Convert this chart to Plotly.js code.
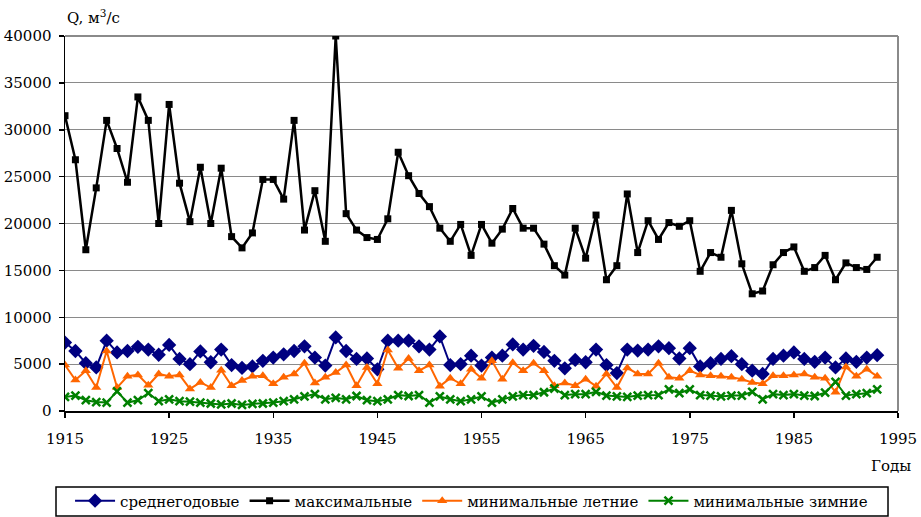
<!DOCTYPE html>
<html>
<head>
<meta charset="utf-8">
<script src="https://cdn.plot.ly/plotly-3.0.1.min.js"></script>
<style>html,body{margin:0;padding:0;background:#fff;}#chart{width:921px;height:517px;}</style>
</head>
<body>
<div id="chart"></div>
<script>
const years = [1915,1916,1917,1918,1919,1920,1921,1922,1923,1924,1925,1926,1927,1928,1929,1930,1931,1932,1933,1934,1935,1936,1937,1938,1939,1940,1941,1942,1943,1944,1945,1946,1947,1948,1949,1950,1951,1952,1953,1954,1955,1956,1957,1958,1959,1960,1961,1962,1963,1964,1965,1966,1967,1968,1969,1970,1971,1972,1973,1974,1975,1976,1977,1978,1979,1980,1981,1982,1983,1984,1985,1986,1987,1988,1989,1990,1991,1992,1993];

const meanAnnual = [7300,6400,5100,4650,7500,6250,6400,6850,6550,6000,7050,5550,5000,6350,5200,6550,4900,4600,4750,5350,5700,6050,6400,6900,5700,4850,7850,6400,5550,5600,4450,7500,7500,7500,6900,6550,7950,4900,5000,5900,4850,5700,5900,7100,6550,6950,6300,5350,4550,5450,5200,6550,4900,4050,6550,6450,6550,6900,6700,5600,6700,4750,5100,5550,5850,5000,4300,3950,5550,5900,6250,5550,5250,5700,4650,5600,5250,5700,5950];

const maxFlow = [31500,26800,17200,23800,31000,28000,24400,33500,31000,20000,32700,24300,20200,26000,20000,25900,18600,17400,19000,24700,24700,22600,31000,19300,23500,18100,40000,21050,19300,18500,18300,20500,27600,25100,23200,21800,19500,18100,19900,16600,19900,17900,19400,21600,19500,19500,17800,15500,14500,19500,16300,20900,14000,15500,23150,16900,20300,18300,20100,19700,20300,14900,16900,16400,21400,15700,12500,12800,15600,16900,17500,14900,15300,16600,14000,15800,15300,15100,16400];

const minSummer = [4900,3300,4300,2500,6400,2500,3700,3850,2750,3950,3700,3850,2350,3050,2500,4350,2700,3250,3700,3750,2900,3600,3950,5100,3000,3600,4100,4900,2700,4650,2900,6500,4550,5600,4300,4900,2650,3500,2900,4450,3500,5350,3400,5150,4300,5100,4300,2700,3000,2700,3400,2650,3950,2500,4600,3950,3950,5100,3600,3500,4300,3850,3750,3700,3600,3400,3050,2900,3750,3750,3850,3950,3600,3500,2000,4700,3700,4450,3700];

const minWinter = [1500,1650,1150,950,900,2100,900,1150,1900,1050,1250,1050,1000,900,800,700,800,650,750,800,900,1050,1250,1550,1800,1250,1400,1250,1600,1150,1050,1250,1700,1600,1700,900,1550,1250,1050,1250,1550,900,1250,1550,1700,1700,2000,2400,1700,1800,1800,2050,1650,1550,1500,1650,1700,1700,2300,1900,2300,1700,1650,1550,1650,1650,2050,1250,1800,1700,1800,1650,1600,1950,3100,1650,1800,1900,2300];

const seriesNames = ['среднегодовые','максимальные','минимальные летние','минимальные зимние'];
const xTicks = [1915,1925,1935,1945,1955,1965,1975,1985,1995];
const yTicks = [0,5000,10000,15000,20000,25000,30000,35000,40000];

const FONT = '"DejaVu Serif", "Liberation Serif", "Times New Roman", serif';

const traces = [
  {x: years, y: meanAnnual, name: seriesNames[0], type: 'scatter', mode: 'lines+markers',
   line: {color: '#000080', width: 2}, marker: {symbol: 'diamond', size: 11, color: '#000080'}},
  {x: years, y: maxFlow, name: seriesNames[1], type: 'scatter', mode: 'lines+markers',
   line: {color: '#000000', width: 2.5}, marker: {symbol: 'square', size: 7, color: '#000000'}},
  {x: years, y: minSummer, name: seriesNames[2], type: 'scatter', mode: 'lines+markers',
   line: {color: '#FF6600', width: 2}, marker: {symbol: 'triangle-up', size: 9, color: '#FF6600'}},
  {x: years, y: minWinter, name: seriesNames[3], type: 'scatter', mode: 'lines+markers',
   line: {color: '#008000', width: 2}, marker: {symbol: 'x-thin-open', size: 8, color: '#008000', line: {width: 2.5, color: '#008000'}}}
];

const layout = {
  width: 921, height: 517,
  margin: {l: 65, r: 23, t: 36, b: 106},
  paper_bgcolor: '#ffffff', plot_bgcolor: '#ffffff',
  font: {family: FONT, size: 15, color: '#000'},
  showlegend: true,
  xaxis: {
    range: [1915, 1995], tickvals: xTicks, ticktext: xTicks.map(String),
    showgrid: false, zeroline: false,
    showline: true, linecolor: '#000', linewidth: 1.5,
    ticks: 'outside', ticklen: 5, tickcolor: '#000', tickwidth: 1.5,
    tickfont: {family: FONT, size: 15, color: '#000'},
    ticklabelstandoff: 8
  },
  yaxis: {
    range: [0, 40000], tickvals: yTicks, ticktext: yTicks.map(String),
    showgrid: true, gridcolor: '#8a8a8a', gridwidth: 1,
    zeroline: false,
    showline: true, linecolor: '#000', linewidth: 1.5,
    ticks: 'outside', ticklen: 5, tickcolor: '#000', tickwidth: 1.5,
    tickfont: {family: FONT, size: 15, color: '#000'},
    ticklabelstandoff: 4
  },
  shapes: [
    {type: 'line', xref: 'paper', yref: 'paper', x0: 0, x1: 1, y0: 1, y1: 1, line: {color: '#8a8a8a', width: 2}, layer: 'below'},
    {type: 'line', xref: 'paper', yref: 'paper', x0: 1, x1: 1, y0: 0, y1: 1, line: {color: '#8a8a8a', width: 2}, layer: 'below'},
    {type: 'rect', xref: 'paper', yref: 'paper', x0: -0.0108, x1: 0.988, y0: -0.28, y1: -0.2027,
     line: {color: '#000', width: 1.5}, fillcolor: 'rgba(0,0,0,0)', layer: 'above'}
  ],
  legend: {
    orientation: 'h', xref: 'container', yref: 'container',
    x: 0.512, xanchor: 'center', y: 0.031, yanchor: 'middle',
    borderwidth: 0, bgcolor: 'rgba(0,0,0,0)',
    font: {family: FONT, size: 15, color: '#000'},
    itemwidth: 40
  },
  annotations: [
    {text: 'Q, м<sup>3</sup>/с', xref: 'paper', yref: 'paper', x: 0, y: 1.05, xanchor: 'left', yanchor: 'middle',
     showarrow: false, font: {family: FONT, size: 15, color: '#000'}},
    {text: 'Годы', xref: 'paper', yref: 'paper', x: 1.018, y: -0.147, xanchor: 'right', yanchor: 'middle',
     showarrow: false, font: {family: FONT, size: 15, color: '#000'}}
  ]
};

Plotly.newPlot('chart', traces, layout, {displayModeBar: false, staticPlot: true});
</script>
</body>
</html>
